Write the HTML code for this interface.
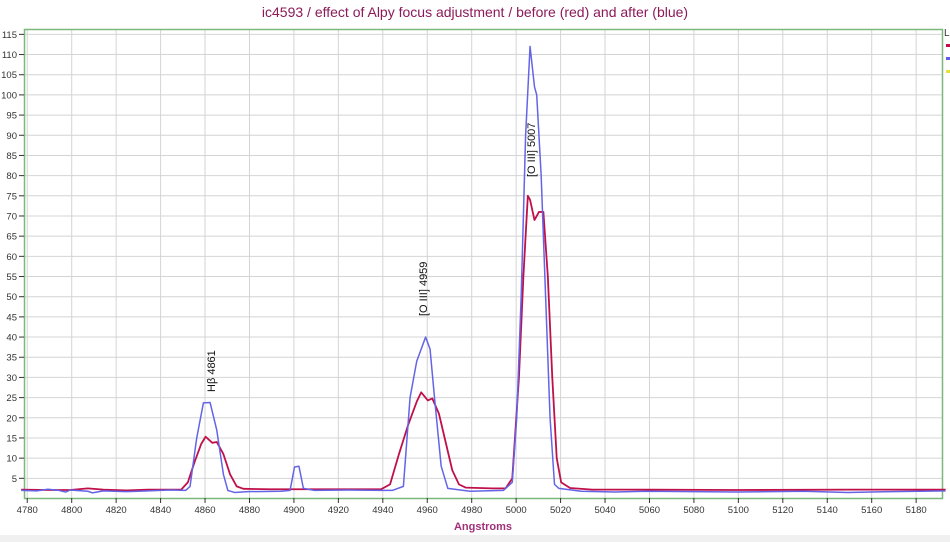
<!DOCTYPE html>
<html><head><meta charset="utf-8"><style>
html,body{margin:0;padding:0;background:#fff;}
svg{display:block;font-family:"Liberation Sans",sans-serif;}
</style></head><body>
<svg width="950" height="542" xmlns="http://www.w3.org/2000/svg">
<rect width="950" height="542" fill="#fff"/>
<rect x="0" y="535" width="950" height="7" fill="#f0f0f0"/>
<text x="475" y="17" font-size="14" fill="#8b1a5a" text-anchor="middle">ic4593 / effect of Alpy focus adjustment / before (red) and after (blue)</text>
<g id="grid" stroke="#d4d4d4" stroke-width="1"></g>
<rect x="24.5" y="29.5" width="918" height="469" fill="none" stroke="#7cb87c" stroke-width="1.5"/>
<g id="ticks" font-size="9.5" fill="#333"></g>
<text x="483" y="530" font-size="11" font-weight="bold" fill="#a0307a" text-anchor="middle">Angstroms</text>
<text x="944" y="36" font-size="10" fill="#333">L</text>
<rect x="946" y="44" width="4" height="3" fill="#c0104a"/>
<rect x="946" y="57" width="4" height="3" fill="#6060e0"/>
<rect x="946" y="70" width="4" height="3" fill="#e8e040"/>
<g transform="translate(-10596.5 498.5) scale(2.2222 -4.036)" fill="none" stroke-linejoin="round">
<polyline vector-effect="non-scaling-stroke" stroke="#c0104a" stroke-width="1.8" points="4778,2.2 4790,2.1 4800,2.1 4808,2.5 4815,2.2 4825,2 4835,2.2 4850,2.2 4853,4 4856,9 4859,13.5 4861,15.3 4864,13.8 4866,14 4869,11 4872,6 4875,3 4878,2.4 4890,2.3 4900,2.3 4920,2.3 4940,2.3 4944,3.5 4948,11 4952,18 4956,24 4958,26.3 4961,24.3 4963,24.8 4966,21 4969,14 4972,7 4975,3.5 4978,2.7 4990,2.5 4996,2.5 4999,5 5002,30 5004,55 5006,75 5007,74 5009,69 5011,71 5013,71 5015,55 5017,30 5019,10 5021,4 5025,2.6 5035,2.2 5060,2.2 5100,2.1 5150,2.2 5194,2.2"/>
<polyline vector-effect="non-scaling-stroke" stroke="#6464e6" stroke-width="1.5" points="4778,2 4785,1.9 4790,2.3 4795,2 4798,1.6 4800,2.1 4808,1.8 4810,1.4 4815,1.9 4825,1.7 4835,1.9 4845,2.1 4852,2 4854,3 4857,15 4860,23.7 4863,23.8 4866,17 4869,6 4871,2 4874,1.5 4880,1.7 4895,1.8 4899,2 4901,7.8 4903,8 4905,2.5 4910,2 4925,2.1 4945,2 4950,3 4953,25 4956,34 4960,40 4962,37 4964,25 4967,8 4970,2.5 4980,1.8 4995,2 4999,4 5001,20 5003,50 5005,90 5007,112 5009,102 5010,100 5012,80 5014,50 5016,20 5018,3.5 5020,2.5 5030,1.8 5045,1.6 5060,1.8 5080,1.7 5100,1.6 5130,1.8 5150,1.5 5170,1.7 5194,1.9"/>
</g>
<text transform="translate(215 392) rotate(-90)" font-size="11" fill="#111">Hβ 4861</text>
<text transform="translate(427 316) rotate(-90)" font-size="11" fill="#111">[O III] 4959</text>
<text transform="translate(535 177) rotate(-90)" font-size="11" fill="#111">[O III] 5007</text>
<script>
var g=document.getElementById('grid'),t=document.getElementById('ticks'),ns='http://www.w3.org/2000/svg';
function el(p,n,a,txt){var e=document.createElementNS(ns,n);for(var k in a)e.setAttribute(k,a[k]);if(txt)e.textContent=txt;p.appendChild(e);}
for(var l=4780;l<=5180;l+=20){var x=71.7+(l-4800)*2.2222;el(g,'line',{x1:x,x2:x,y1:30,y2:498});el(t,'line',{x1:x,x2:x,y1:498,y2:503,stroke:'#333'});el(t,'text',{x:x,y:513,'text-anchor':'middle'},String(l));}
for(var v=5;v<=115;v+=5){var y=498.5-4.036*v;el(g,'line',{x1:25,x2:942,y1:y,y2:y});el(t,'line',{x1:19,x2:24,y1:y,y2:y,stroke:'#333'});el(t,'text',{x:17,y:y+3.5,'text-anchor':'end'},String(v));}
</script>
</svg>
</body></html>
